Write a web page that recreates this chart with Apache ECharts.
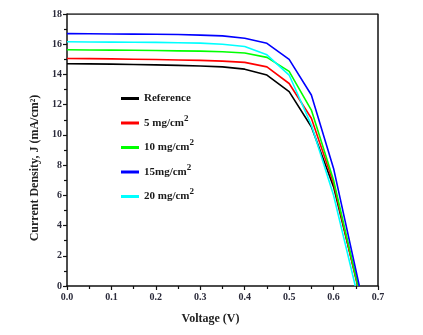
<!DOCTYPE html>
<html>
<head>
<meta charset="utf-8">
<script src="https://cdn.jsdelivr.net/npm/echarts@6/dist/echarts.min.js"></script>
<style>
  html, body { margin: 0; padding: 0; background: #fff; }
  #chart { width: 423px; height: 335px; }
</style>
</head>
<body>
<div id="chart"></div>
<script>
// 电压采样点 (V)
var voltage = [0, 0.05, 0.1, 0.15, 0.2, 0.25, 0.3, 0.35, 0.4, 0.45, 0.5, 0.55, 0.6];
// 各曲线的开路电压
var vocRef = 0.655;
var voc5 = 0.654;
var voc10 = 0.655;
var voc15 = 0.658;
var voc20 = 0.649;
// 电流密度 (mA/cm2)
var jRef = [14.71, 14.70, 14.68, 14.66, 14.63, 14.60, 14.56, 14.50, 14.35, 13.96, 12.86, 10.54, 6.56];
var j5 = [15.06, 15.05, 15.03, 15.01, 14.99, 14.96, 14.93, 14.88, 14.80, 14.50, 13.40, 11.10, 6.80];
var j10 = [15.63, 15.62, 15.61, 15.60, 15.58, 15.56, 15.54, 15.50, 15.42, 15.13, 14.20, 11.64, 7.00];
var j15 = [16.70, 16.69, 16.68, 16.67, 16.66, 16.64, 16.60, 16.55, 16.40, 16.06, 15.00, 12.64, 7.78];
var j20 = [16.16, 16.15, 16.14, 16.13, 16.12, 16.10, 16.07, 16.00, 15.85, 15.30, 13.96, 10.65, 6.00];

var names = ["Reference", "5 mg/cm2", "10 mg/cm2", "15mg/cm2", "20 mg/cm2"];
var colors = ["#000000", "#ff0000", "#00ff00", "#0000ff", "#00ffff"];

function pairs(j, voc) {
  var out = voltage.map(function (v, i) { return [v, j[i]]; });
  out.push([voc, 0]);
  return out;
}

var seriesData = [
  pairs(jRef, vocRef),
  pairs(j5, voc5),
  pairs(j10, voc10),
  pairs(j15, voc15),
  pairs(j20, voc20)
];

var font = "Liberation Serif";
var myChart = echarts.init(document.getElementById("chart"));
myChart.setOption({
  animation: false,
  grid: { left: 67, right: 45, top: 14, bottom: 49 },
  legend: {
    orient: "vertical",
    left: 116,
    top: 88,
    itemWidth: 18,
    itemHeight: 3,
    itemGap: 10,
    icon: "rect",
    data: names,
    formatter: function (name) {
      if (name === "Reference") return "{a|Reference}";
      return "{a|" + name.slice(0, -1) + "}{s|2}";
    },
    textStyle: {
      rich: {
        a: { fontFamily: font, fontWeight: "bold", fontSize: 11, color: "#1a1a1a" },
        s: { fontFamily: font, fontWeight: "bold", fontSize: 9, color: "#1a1a1a", padding: [0, 0, 9, 0] }
      }
    }
  },
  xAxis: {
    type: "value",
    min: 0,
    max: 0.7,
    interval: 0.1,
    name: "Voltage (V)",
    nameLocation: "middle",
    nameGap: 27,
    nameTextStyle: { fontFamily: font, fontWeight: "bold", fontSize: 12, color: "#222", padding: [0, 24, 0, 0] },
    axisLine: { onZero: false, lineStyle: { color: "#111", width: 1.5 } },
    axisTick: { length: 4, lineStyle: { color: "#111", width: 1.2 } },
    minorTick: { show: true, splitNumber: 2, length: 3, lineStyle: { color: "#111", width: 1.2 } },
    splitLine: { show: false },
    axisLabel: {
      fontFamily: font, fontWeight: "bold", fontSize: 10, color: "#2a2a3a", margin: 6,
      formatter: function (v) { return v.toFixed(1); }
    }
  },
  yAxis: {
    type: "value",
    min: 0,
    max: 18,
    interval: 2,
    name: "Current Density, J (mA/cm²)",
    nameLocation: "middle",
    nameGap: 23,
    nameTextStyle: { fontFamily: font, fontWeight: "bold", fontSize: 12, color: "#222", padding: [0, 36, 0, 0] },
    axisLine: { lineStyle: { color: "#111", width: 1.5 } },
    axisTick: { length: 4, lineStyle: { color: "#111", width: 1.2 } },
    minorTick: { show: true, splitNumber: 2, length: 3, lineStyle: { color: "#111", width: 1.2 } },
    splitLine: { show: false },
    axisLabel: { fontFamily: font, fontWeight: "bold", fontSize: 10, color: "#2a2a3a", margin: 5 }
  },
  series: names.map(function (n, i) {
    return {
      name: n,
      type: "line",
      data: seriesData[i],
      showSymbol: false,
      color: colors[i],
      lineStyle: { color: colors[i], width: 1.6 },
      z: 3 + i
    };
  }).concat([{
    // 上方与右侧边框
    type: "line",
    data: [[0, 18], [0.7, 18], [0.7, 0]],
    showSymbol: false,
    silent: true,
    lineStyle: { color: "#111", width: 1.5 },
    z: 1
  }])
});
</script>
</body>
</html>
